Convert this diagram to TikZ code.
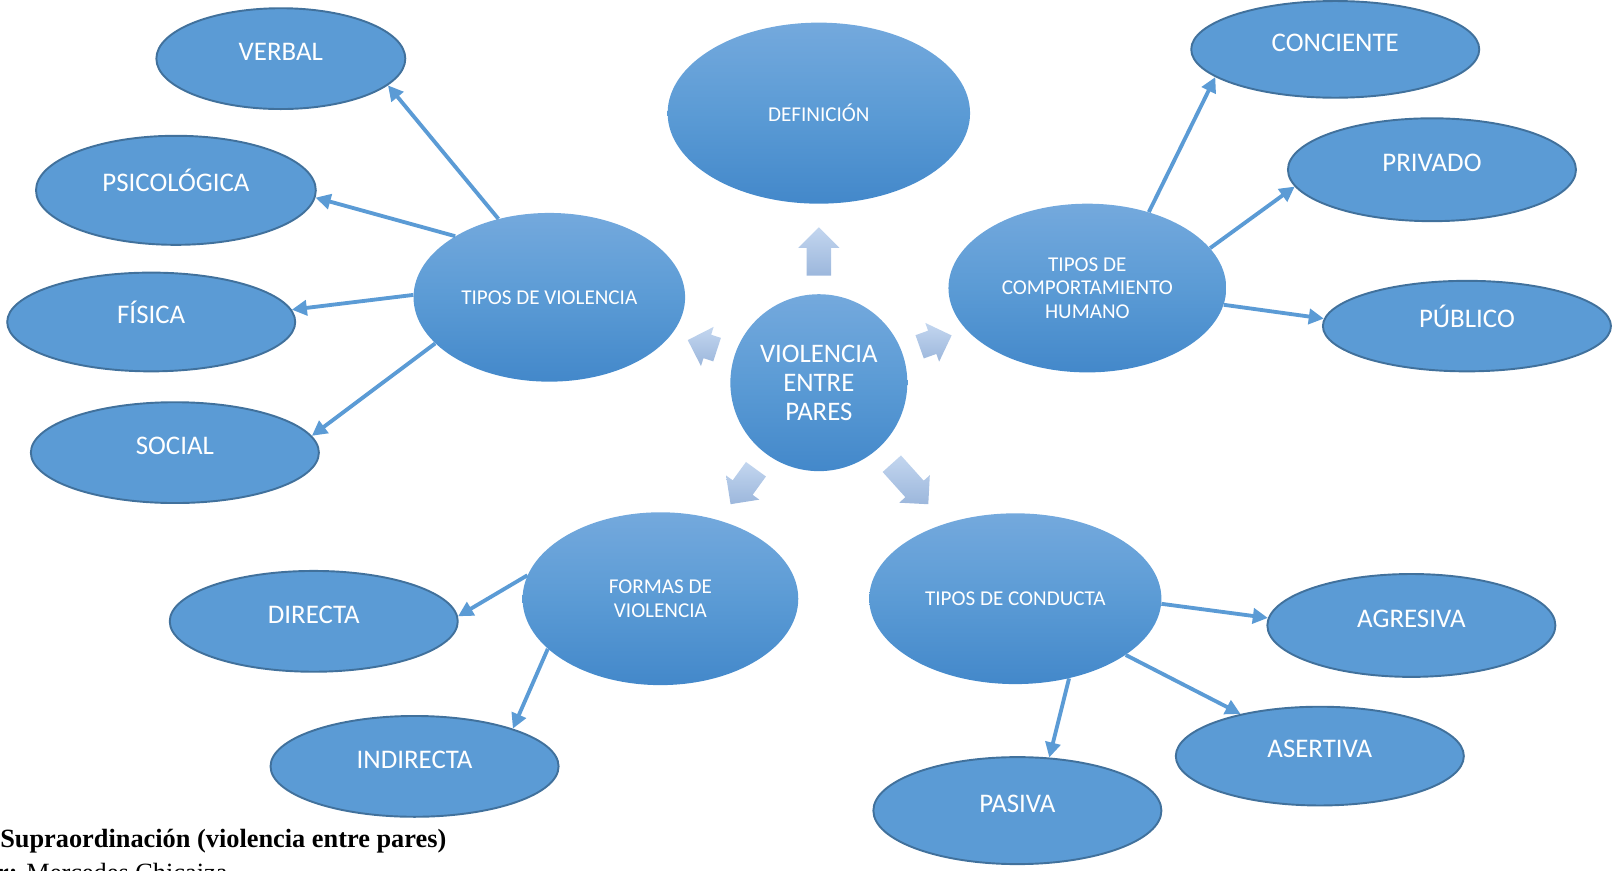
\documentclass[tikz,border=0pt]{standalone}
\usepackage{fontspec}
\setmainfont{Carlito}
\newfontfamily\capfont{Liberation Serif}
\usetikzlibrary{shapes.geometric,arrows.meta}
\definecolor{leaffill}{HTML}{5B9BD5}
\definecolor{leafline}{HTML}{41719C}
\definecolor{midtop}{HTML}{74A9DD}
\definecolor{midbot}{HTML}{4388CA}
\definecolor{conncol}{HTML}{5B9BD5}
\definecolor{arrtop}{HTML}{C3D6EF}
\definecolor{arrbot}{HTML}{9CB7DC}
\tikzset{
  leaf/.style={ellipse, draw=leafline, line width=1.4pt, fill=leaffill, text=white,
    font=\fontsize{19.6}{21}\selectfont, inner sep=0pt, text height=0.644em, text depth=0.4em},
  mid/.style={ellipse, top color=midtop, bottom color=midbot, middle color=leaffill, text=white,
    font=\fontsize{15.4}{17}\selectfont, inner sep=0pt, align=center},
  hub/.style={circle, top color=midtop, bottom color=midbot, middle color=leaffill, text=white,
    font=\fontsize{19.5}{21}\selectfont, inner sep=0pt, align=center, minimum size=129pt},
  conn/.style={draw=conncol, line width=2.8pt, -{Triangle[length=11pt,width=11pt]}},
  blockarr/.style={top color=arrtop, bottom color=arrbot, draw=none}
}
\newcommand{\blockarrow}[3]{%
  \begin{scope}[shift={(hub.center)}, rotate=#1]
    \path[blockarr] (#2,-12) -- ({#3-20},-12) -- ({#3-20},-20) -- (#3,0) -- ({#3-20},20) -- ({#3-20},12) -- (#2,12) -- cycle;
  \end{scope}}
\begin{document}
\begin{tikzpicture}[x=0.75pt,y=-0.75pt]
\useasboundingbox (0,0) rectangle (1568,846);
\clip (0,0) rectangle (1568,846);

% central hub and middle ellipses
\node[hub] (hub) at (796,372) {VIOLENCIA\\ENTRE\\PARES};
\node[mid, minimum width=220.5pt, minimum height=132pt] (def) at (796,110) {DEFINICIÓN};
\node[mid, minimum width=198pt, minimum height=123pt] (tdv) at (534,289) {TIPOS DE VIOLENCIA};
\node[mid, minimum width=202.5pt, minimum height=123pt] (tch) at (1057,280) {TIPOS DE\\COMPORTAMIENTO\\HUMANO};
\node[mid, minimum width=201pt, minimum height=126pt] (fdv) at (642,582) {FORMAS DE\\VIOLENCIA};
\node[mid, minimum width=213pt, minimum height=124.5pt] (tdc) at (987,582) {TIPOS DE CONDUCTA};

% block arrows
\blockarrow{90}{104}{151}
\blockarrow{19.6}{104}{137}
\blockarrow{162}{104}{134}
\blockarrow{234}{104}{146}
\blockarrow{312}{106}{159}

% leaves
\node[leaf, minimum width=181.5pt, minimum height=73.5pt] (verbal) at (273,57) {VERBAL};
\node[leaf, minimum width=204pt, minimum height=79.5pt] (psico) at (171,185) {PSICOLÓGICA};
\node[leaf, minimum width=210pt, minimum height=72pt] (fisica) at (147,313) {FÍSICA};
\node[leaf, minimum width=210pt, minimum height=73.5pt] (social) at (170,440) {SOCIAL};
\node[leaf, minimum width=210pt, minimum height=70.5pt] (conc) at (1298,48) {CONCIENTE};
\node[leaf, minimum width=210pt, minimum height=75pt] (priv) at (1392,165) {PRIVADO};
\node[leaf, minimum width=210pt, minimum height=66pt] (publ) at (1426,317) {PÚBLICO};
\node[leaf, minimum width=210pt, minimum height=73.5pt] (dir) at (305,604) {DIRECTA};
\node[leaf, minimum width=210pt, minimum height=73.5pt] (indir) at (403,745) {INDIRECTA};
\node[leaf, minimum width=210pt, minimum height=75pt] (agr) at (1372,608) {AGRESIVA};
\node[leaf, minimum width=210pt, minimum height=72pt] (aser) at (1283,735) {ASERTIVA};
\node[leaf, minimum width=210pt, minimum height=78pt] (pas) at (989,788) {PASIVA};

% connectors
\draw[conn] (tdv.123) -- (verbal.-14);
\draw[conn] (tdv.147.6) -- (psico.-3);
\draw[conn] (tdv.179) -- (fisica.5.4);
\draw[conn] (tdv.202.7) -- (social.7.8);
\draw[conn] (tch.51.8) -- (conc.193.3);
\draw[conn] (tch.18.6) -- (priv.187.6);
\draw[conn] (tch.-7.3) -- (publ.177.8);
\draw[conn] (fdv.170.8) -- (dir.2.9);
\draw[conn] (fdv.204.4) -- (indir.21.4);
\draw[conn] (tdc.-2) -- (agr.177.5);
\draw[conn] (tdc.-27) -- (aser.152.2);
\draw[conn] (tdc.-56.3) -- (pas.59.5);

% caption
\node[anchor=base west, inner sep=0pt, font=\capfont\fontsize{19.2}{22}\selectfont\bfseries] (cap) at (0,824) {Supraordinación (violencia entre pares)};
\node[anchor=base west, inner sep=0pt, font=\capfont\fontsize{19.2}{22}\selectfont] (auth) at (-3,857) {\textbf{r:} Mercedes Chicaiza};
\end{tikzpicture}
\end{document}
